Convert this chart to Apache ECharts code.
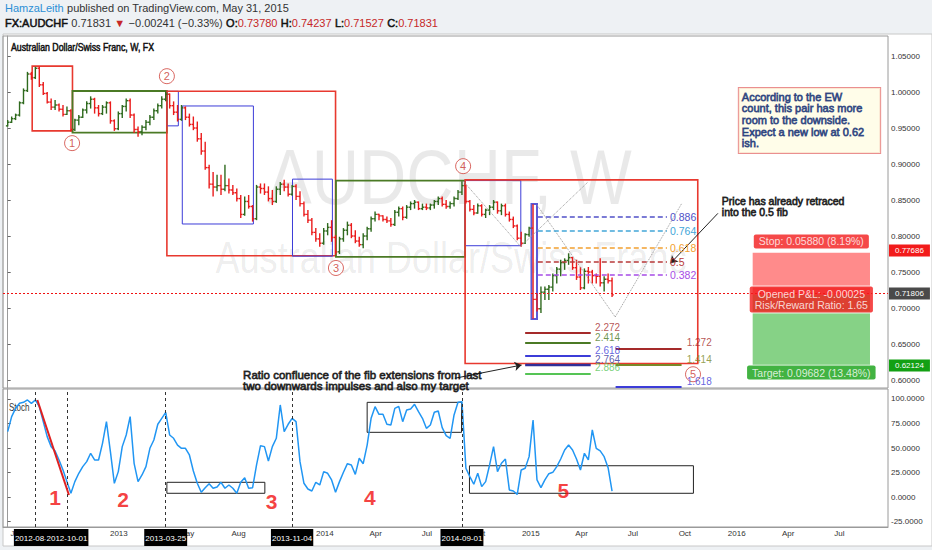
<!DOCTYPE html>
<html><head><meta charset="utf-8">
<script src="https://cdn.jsdelivr.net/npm/echarts@6/dist/echarts.min.js"></script>
<style>html,body{margin:0;padding:0;background:#eef1f4;}#c{width:932px;height:550px;}</style>
</head><body><div id="c"></div>
<script>
// ---------- DATA ----------
const firstWeek = '2012-06-18';           // Monday of first weekly bar (x = weeks since this date)
const opens = [0.953,0.958,0.963,0.968,0.985,1.002,1.025,1.020,1.033,1.010,
0.998,0.986,0.979,0.982,0.976,0.969,0.974,0.948,0.961,0.965,
0.975,0.984,0.990,0.978,0.970,0.979,0.985,0.960,0.949,0.970,
0.980,0.988,0.968,0.948,0.945,0.951,0.958,0.965,0.974,0.981,
0.990,0.997,0.981,0.972,0.962,0.978,0.965,0.955,0.950,0.935,
0.918,0.895,0.872,0.868,0.870,0.865,0.870,0.864,0.860,0.852,
0.830,0.848,0.841,0.824,0.868,0.866,0.861,0.852,0.848,0.865,
0.872,0.868,0.858,0.869,0.855,0.845,0.830,0.822,0.805,0.796,
0.790,0.807,0.812,0.798,0.778,0.796,0.808,0.815,0.800,0.793,
0.788,0.800,0.810,0.824,0.830,0.828,0.823,0.821,0.816,0.833,
0.838,0.826,0.840,0.845,0.847,0.838,0.840,0.839,0.843,0.848,
0.852,0.844,0.841,0.845,0.852,0.861,0.870,0.848,0.837,0.832,
0.842,0.830,0.836,0.840,0.847,0.835,0.842,0.830,0.823,0.814,
0.797,0.790,0.802,0.811,0.712,0.699,0.722,0.726,0.729,0.745,
0.754,0.763,0.766,0.770,0.756,0.743,0.728,0.751,0.750,0.745,
0.744,0.735,0.740,0.7378];
const highs = [0.961,0.966,0.970,0.987,1.005,1.028,1.028,1.035,1.035,1.014,
1.000,0.991,0.989,0.984,0.982,0.980,0.976,0.963,0.968,0.977,
0.987,0.994,0.992,0.982,0.982,0.987,0.987,0.962,0.973,0.982,
0.991,0.991,0.970,0.952,0.954,0.961,0.968,0.977,0.984,0.994,
1.001,0.998,0.987,0.982,0.982,0.980,0.970,0.966,0.959,0.943,
0.931,0.899,0.889,0.885,0.885,0.899,0.880,0.871,0.866,0.857,
0.855,0.857,0.843,0.871,0.873,0.873,0.869,0.864,0.869,0.875,
0.878,0.873,0.871,0.872,0.862,0.848,0.836,0.825,0.811,0.804,
0.811,0.818,0.822,0.801,0.799,0.811,0.820,0.818,0.808,0.799,
0.804,0.813,0.827,0.834,0.831,0.829,0.827,0.825,0.836,0.841,
0.841,0.843,0.848,0.850,0.848,0.845,0.845,0.845,0.850,0.855,
0.855,0.850,0.848,0.855,0.864,0.876,0.871,0.850,0.843,0.845,
0.844,0.838,0.843,0.850,0.848,0.845,0.845,0.834,0.827,0.816,
0.806,0.804,0.813,0.844,0.720,0.730,0.730,0.732,0.748,0.757,
0.767,0.769,0.776,0.771,0.767,0.757,0.755,0.757,0.753,0.748,
0.769,0.744,0.748,0.74237];
const lows = [0.952,0.957,0.961,0.966,0.983,1.000,1.017,1.018,1.007,0.996,
0.984,0.975,0.975,0.973,0.966,0.968,0.945,0.946,0.954,0.964,
0.970,0.977,0.970,0.966,0.968,0.970,0.956,0.946,0.947,0.964,
0.973,0.964,0.943,0.938,0.940,0.947,0.954,0.961,0.970,0.977,
0.987,0.977,0.968,0.959,0.960,0.961,0.952,0.947,0.931,0.913,
0.892,0.866,0.855,0.862,0.857,0.862,0.859,0.857,0.848,0.825,
0.828,0.838,0.820,0.822,0.859,0.857,0.848,0.843,0.846,0.857,
0.862,0.855,0.856,0.850,0.841,0.827,0.818,0.801,0.792,0.785,
0.788,0.801,0.792,0.774,0.775,0.792,0.801,0.797,0.790,0.785,
0.783,0.794,0.806,0.820,0.822,0.820,0.818,0.813,0.814,0.827,
0.822,0.824,0.836,0.838,0.836,0.836,0.836,0.836,0.838,0.843,
0.841,0.838,0.838,0.841,0.850,0.857,0.845,0.834,0.829,0.831,
0.827,0.825,0.829,0.836,0.831,0.829,0.827,0.820,0.811,0.794,
0.785,0.789,0.799,0.685,0.695,0.693,0.711,0.711,0.723,0.734,
0.744,0.753,0.760,0.753,0.739,0.725,0.726,0.734,0.734,0.734,
0.730,0.723,0.734,0.71527];
const closes = [0.958,0.963,0.968,0.985,1.002,1.025,1.020,1.033,1.010,0.998,
0.986,0.979,0.982,0.976,0.969,0.974,0.948,0.961,0.965,0.975,
0.984,0.990,0.978,0.970,0.979,0.985,0.960,0.949,0.970,0.980,
0.988,0.968,0.948,0.945,0.951,0.958,0.965,0.974,0.981,0.990,
0.997,0.981,0.972,0.962,0.978,0.965,0.955,0.950,0.935,0.918,
0.895,0.872,0.868,0.870,0.865,0.870,0.864,0.860,0.852,0.830,
0.848,0.841,0.824,0.868,0.866,0.861,0.852,0.848,0.865,0.872,
0.868,0.858,0.869,0.855,0.845,0.830,0.822,0.805,0.796,0.790,
0.807,0.812,0.798,0.778,0.796,0.808,0.815,0.800,0.793,0.788,
0.800,0.810,0.824,0.830,0.828,0.823,0.821,0.816,0.833,0.838,
0.826,0.840,0.845,0.847,0.838,0.840,0.839,0.843,0.848,0.852,
0.844,0.841,0.845,0.852,0.861,0.870,0.848,0.837,0.832,0.842,
0.830,0.836,0.840,0.847,0.835,0.842,0.830,0.823,0.814,0.797,
0.790,0.802,0.811,0.712,0.699,0.722,0.726,0.729,0.745,0.754,
0.763,0.766,0.770,0.756,0.743,0.728,0.751,0.750,0.745,0.744,
0.735,0.740,0.7378,0.71831];
const stochK = [66.7,82,90.5,95.6,96.6,99,95.6,99,92.2,76.9,
61.6,51.4,47,37.8,27.6,15.7,3.8,15.7,24.2,31,
36.1,44.6,37.8,37.8,54.8,76.9,46.3,14,25.9,51.4,
63.3,82,34.4,15.7,22.5,31,49.7,58.2,74.2,80.3,
86.4,63.3,59.9,53,49.7,49.7,42.9,26.5,14,4.8,
9.5,13.6,8.9,10.2,15,8.9,12.3,8.9,3.8,15,
19.7,8.9,9.5,32.7,52.4,51.4,36.8,51.4,59.9,93.9,
66.7,74.2,80.3,76.9,36.1,14,8.2,6.1,15,12.3,
25.9,24.2,17.4,4.8,15.7,25.2,34,32.7,23.1,39.5,
34,53,80.3,92.2,84.4,84.4,74.2,73.5,90.5,92.5,
76.9,88.8,89.8,94.6,87.1,80.3,70.1,73.5,86.4,87.8,
70.8,62.6,59.9,83.7,96.6,97.3,29.3,20.8,13,24.2,
10.6,15.7,32.7,51.4,25.9,34.4,38.8,7.2,6.1,2.7,
27.6,29.3,41.2,78.6,17.4,9.5,17.4,23.8,25.2,31,
38.8,48,53,48,38.8,27.6,44.6,37.8,68.4,49.7,
47,41.2,29.9,6.1];
const priceTicks = [0.60,0.65,0.70,0.75,0.80,0.85,0.90,0.95,1.00,1.05];
const stochTicks = [-25,0,25,50,75,100];
const timeLabels = [['2012-07-02','Jul'],['2013-01-01','2013'],['2013-05-01','May'],['2013-08-01','Aug'],
 ['2014-01-01','2014'],['2014-04-01','Apr'],['2014-07-01','Jul'],['2014-10-01','Oct'],
 ['2015-01-01','2015'],['2015-04-01','Apr'],['2015-07-01','Jul'],['2015-10-01','Oct'],
 ['2016-01-01','2016'],['2016-04-01','Apr'],['2016-07-01','Jul']];
const markedDates = ['2012-08-06','2012-10-01','2013-03-25','2013-11-04','2014-09-01'];
// annotations in data units: week index (from firstWeek), price / stoch value
const waveBoxes = [[6.2,16.4,1.036,0.946,'red'],[16.4,40.3,1.0014,0.9435,'green'],[40.3,43.2,1.001,0.953,'blue'],
 [44.2,62.2,0.9806,0.8167,'blue'],[40.3,83.0,1.001,0.7726,'red'],[72.1,82.2,0.879,0.772,'blue'],
 [83.1,115.8,0.877,0.771,'green'],[115.8,129.9,0.877,0.7865,'blue'],[115.8,174.7,0.878,0.623,'red'],
 [132.6,134.0,0.8444,0.6847,'purple']];
const waveLabels = [['1',16.3,0.929],['2',40.3,1.022],['3',83.1,0.7556],['4',115.3,0.897],['5',173.5,0.608]];
const zigzag = [[115.3,0.8764,129.9,0.7851],[130,0.7861,146.9,0.875],[134,0.843,153.8,0.6875],[153.8,0.6875,170.7,0.8458]];
const fibSwing = [0.8444,0.6847];
const fibLevels = [0.886,0.764,0.618,0.5,0.382];
const fibSpan = [134.2,166.9];
const extLeftLevels = ['2.272','2.414','2.618','2.764','2.886'];
const extLeftPrices = [0.6657,0.6520,0.6333,0.6208,0.6093];
const extLeftSpan = [131.0,147.6];
const extRightLevels = ['1.272','1.414','1.618'];
const extRightPrices = [0.6440,0.6208,0.5905];
const extRightSpan = [153.9,170.6];
const trade = {from:188.6, to:218.3, entry:0.71806, stop:0.77686, target:0.62124};
const stochBoxes = [[40.3,65.1,15,3.8],[91.0,114.9,96.6,66.0],[116.9,173.6,31.9,3.8]];
const stochDigits = [['1',12,0],['2',29.2,-3],['3',66.8,-4.8],['4',91.7,-0.7],['5',140.7,7.1]];
const stochRedLine = [7.5,99,15.5,2];
const stochMarkWeeks = [7,15,40,72,115];

// ---------- HELPERS ----------
const DAY = 86400000;
const t0 = new Date(firstWeek+'T00:00:00Z').getTime();
const wk = s => (new Date(s+'T00:00:00Z').getTime() - t0) / (7*DAY);   // date -> week position
const xMin = -1.19, xMax = 222.86;
const FN = "'Liberation Sans', Arial, sans-serif";
const ohlc = closes.map((c,i)=>[i,opens[i],highs[i],lows[i],c]);
const stochData = stochK.map((v,i)=>[i,v]);

const boxColor = {red:['#e8392f',1.6],green:['#4b7a25',1.8],blue:['#3c3cd8',1],purple:['#5a5ad8',2]};
const fibColor = {'0.886':'#5050c8','0.764':'#43a6d8','0.618':'#f2a030','0.5':'#b83a3a','0.382':'#a64ce6'};
const extColor = {'2.272':'#a52a2a','2.414':'#4b7a25','2.618':'#3c3cd8','2.764':'#30309a','2.886':'#55c455',
                  '1.272':'#a52a2a','1.414':'#7a8a2a','1.618':'#3c3cd8'};
const bold = col => ({textBorderColor:col,textBorderWidth:0.8});

const labelMap = {};
const key = v => Number(v).toFixed(3);
timeLabels.forEach(([d,t])=>labelMap[key(wk(d))]=t);
markedDates.forEach(d=>labelMap[key(wk(d))]='{box|'+d+'}');
const xCustom = timeLabels.map(a=>wk(a[0])).concat(markedDates.map(wk));

// main pane mark areas / lines
const mainAreas = waveBoxes.map(b=>[{coord:[b[0],b[2]],itemStyle:{color:'rgba(0,0,0,0)',borderColor:boxColor[b[4]][0],borderWidth:boxColor[b[4]][1]}},{coord:[b[1],b[3]]}]);
mainAreas.push([{coord:[trade.from,trade.stop],itemStyle:{color:'#ff8b8b',borderWidth:0}},{coord:[trade.to,trade.entry]}]);
mainAreas.push([{coord:[trade.from,trade.entry],itemStyle:{color:'#86d286',borderWidth:0}},{coord:[trade.to,trade.target]}]);

const mainLines = [];
zigzag.forEach(z=>mainLines.push([{coord:[z[0],z[1]],lineStyle:{color:'#9a9a9a',type:'dotted',width:1}},{coord:[z[2],z[3]]}]));
fibLevels.forEach(l=>{
  const p = fibSwing[1] + l*(fibSwing[0]-fibSwing[1]);
  const k = String(l); const col = fibColor[k];
  mainLines.push([{coord:[fibSpan[0],p],lineStyle:{color:col,type:[5,3],width:1.6},
     label:{show:true,position:'end',formatter:k,color:col,fontSize:10.5,fontFamily:FN,distance:3}},{coord:[fibSpan[1],p]}]);
});
extLeftLevels.forEach((k,i)=>mainLines.push([{coord:[extLeftSpan[0],extLeftPrices[i]],lineStyle:{color:extColor[k],type:'solid',width:k==='2.764'?2.4:1.8}},{coord:[extLeftSpan[1],extLeftPrices[i]]}]));
extRightLevels.forEach((k,i)=>mainLines.push([{coord:[extRightSpan[0],extRightPrices[i]],lineStyle:{color:extColor[k],type:'solid',width:1.8}},{coord:[extRightSpan[1],extRightPrices[i]]}]));
// arrows
mainLines.push([{coord:[179.8,0.8315],symbol:'none',lineStyle:{color:'#222',width:1,type:'solid'}},{coord:[167.8,0.7621],symbol:'arrow'}]);
mainLines.push([{coord:[113.2,0.6024],symbol:'none',lineStyle:{color:'#222',width:1,type:'solid'}},{coord:[130.1,0.6208],symbol:'arrow'}]);
// price tags on the right axis
const tag = (v,bg,dotted)=>({yAxis:v,lineStyle:dotted?{color:'#f01010',type:[2,2],width:1.2,opacity:1}:{color:'rgba(255,255,255,0)',width:0.1},
  label:{show:true,position:'end',distance:1,formatter:v.toFixed(5),color:'#fff',backgroundColor:bg,padding:[2,6,2,6],fontSize:8,fontFamily:FN}});
mainLines.push(tag(trade.stop,'#f21b1b',false));
mainLines.push(tag(0.71806,'#4a4a4a',true));
mainLines.push(tag(trade.target,'#13a013',false));

// texts in main pane
const txt = (w,p,text,lab)=>({value:[w,p],label:Object.assign({show:true,formatter:text,position:[0,0],align:'left',verticalAlign:'middle',fontFamily:FN,fontSize:10},lab)});
const mainTexts = [];
waveLabels.forEach(([n,w,p])=>mainTexts.push({value:[w,p],symbol:'circle',symbolSize:15,
   itemStyle:{color:'rgba(255,255,255,0.9)',borderColor:'#d0413a',borderWidth:1},
   label:{show:true,formatter:n,position:'inside',color:'#c8352f',fontSize:11,fontFamily:FN}}));
extLeftLevels.forEach((k,i)=>mainTexts.push(txt(extLeftSpan[1]+1.1,extLeftPrices[i]+0.0076,k,{color:extColor[k]})));
extRightLevels.forEach((k,i)=>mainTexts.push(txt(extRightSpan[1]+1.3,extRightPrices[i]+0.0078,k,{color:extColor[k]})));
mainTexts.push(txt(185.1,1.0056,'According to the EW\ncount, this pair has more\nroom to the downside.\nExpect a new low at 0.62\nish.',
  Object.assign({verticalAlign:'top',color:'#1f3a7a',fontSize:11,lineHeight:11.6,backgroundColor:'#fffde3',borderColor:'#e57373',borderWidth:1,padding:[3,16,4,3]},bold('#1f3a7a'))));
mainTexts.push(txt(180.8,0.8556,'Price has already retraced\ninto the 0.5 fib',Object.assign({verticalAlign:'top',color:'#111',fontSize:10.5,lineHeight:10.5},bold('#111'))));
mainTexts.push(txt(59.6,0.6153,'Ratio confluence of the fib extensions from last\ntwo downwards impulses and also my target',Object.assign({verticalAlign:'top',color:'#111',fontSize:11.5,lineHeight:11.5},bold('#111'))));
const tradeMid = (trade.from+trade.to)/2;
mainTexts.push(txt(tradeMid,0.7924,'Stop: 0.05880 (8.19%)',{align:'center',color:'#fff',backgroundColor:'#f21b1b',padding:[2,5,1,5],borderRadius:2,fontSize:10.5}));
mainTexts.push(txt(tradeMid,0.7118,'Opened P&L: -0.00025\nRisk/Reward Ratio: 1.65',{align:'center',color:'#fff',backgroundColor:'#f21b1b',padding:[3,5,2,5],borderRadius:2,fontSize:10.5,lineHeight:10.5,borderColor:'#fff',borderWidth:1}));
mainTexts.push(txt(tradeMid,0.6104,'Target: 0.09682 (13.48%)',{align:'center',color:'#fff',backgroundColor:'#13a013',padding:[2,5,1,5],borderRadius:2,fontSize:10.5}));

// stoch pane marks
const stochAreas = stochBoxes.map(b=>[{coord:[b[0],b[2]],itemStyle:{color:'rgba(0,0,0,0)',borderColor:'#222',borderWidth:1}},{coord:[b[1],b[3]]}]);
const stochLines = stochMarkWeeks.map(w=>({xAxis:w,lineStyle:{color:'#333',type:[3,3],width:1}}));
stochLines.push([{coord:[stochRedLine[0],stochRedLine[1]],lineStyle:{color:'#e02020',width:2,type:'solid'}},{coord:[stochRedLine[2],stochRedLine[3]]}]);
const stochTexts = stochDigits.map(([n,w,v])=>({value:[w,v],label:{show:true,formatter:n,position:[0,0],align:'center',verticalAlign:'middle',color:'#f20f0f',fontSize:21,fontWeight:'bold',fontFamily:FN}}));

// ---------- CHART ----------
const chart = echarts.init(document.getElementById('c'),null,{renderer:'svg'});
const axisLbl = {fontSize:8,color:'#333',fontFamily:FN};
chart.setOption({
  animation:false,
  backgroundColor:'#eef1f4',
  grid:[{left:3,right:44,top:36,height:352,show:true,borderColor:'#9a9a9a',borderWidth:1},
        {left:3,right:44,top:389,height:138,show:true,borderColor:'#9a9a9a',borderWidth:1}],
  xAxis:[{type:'value',gridIndex:0,min:xMin,max:xMax,show:false,splitLine:{show:false}},
         {type:'value',gridIndex:1,min:xMin,max:xMax,splitLine:{show:false},
          axisLine:{show:true,onZero:false,lineStyle:{color:'#9a9a9a'}},axisTick:{show:false},
          axisLabel:Object.assign({},axisLbl,{customValues:xCustom,margin:2,formatter:v=>labelMap[key(v)]||'',
             rich:{box:{backgroundColor:'#000',color:'#fff',padding:[5,1,4,1],fontSize:8,fontFamily:FN}}})}],
  yAxis:[{type:'value',gridIndex:0,position:'right',min:0.5889,max:1.0778,splitLine:{show:false},
          axisLine:{show:true,lineStyle:{color:'#9a9a9a'}},axisTick:{show:true,length:3,customValues:priceTicks,lineStyle:{color:'#666'}},
          axisLabel:Object.assign({},axisLbl,{customValues:priceTicks,formatter:v=>v.toFixed(5),margin:3})},
         {type:'value',gridIndex:1,position:'right',min:-30.6,max:110.2,splitLine:{show:false},
          axisLine:{show:true,lineStyle:{color:'#9a9a9a'}},axisTick:{show:true,length:3,customValues:stochTicks,lineStyle:{color:'#666'}},
          axisLabel:Object.assign({},axisLbl,{customValues:stochTicks,formatter:v=>v.toFixed(4),margin:3})}],
  graphic:[
    {type:'rect',shape:{x:3,y:34,width:929,height:512},style:{fill:'#fff',stroke:'#c8c8c8'},z:-10},
    {type:'text',x:450,y:216,scaleX:0.84,z:-5,style:{text:'AUDCHF, W',font:"78px 'Liberation Sans', Arial, sans-serif",fill:'rgba(0,0,0,0.085)',align:'center',verticalAlign:'bottom'}},
    {type:'text',x:451,y:280,scaleX:0.82,z:-5,style:{text:'Australian Dollar/Swiss Franc',font:"44px 'Liberation Sans', Arial, sans-serif",fill:'rgba(0,0,0,0.085)',align:'center',verticalAlign:'bottom'}},
    {type:'text',x:5,y:8,style:{text:'{b|HamzaLeith} {g|published on TradingView.com, May 31, 2015}',verticalAlign:'middle',
       rich:{b:{fill:'#2b8fd6',fontSize:11,fontFamily:FN},g:{fill:'#333',fontSize:11,fontFamily:FN}}}},
    {type:'text',x:5,y:23,style:{text:'{k|FX:AUDCHF} {n|0.71831} {r|▼} {n|\u22120.00241 (\u22120.33%)} {k|O:}{r|0.73780} {k|H:}{r|0.74237} {k|L:}{r|0.71527} {k|C:}{r|0.71831}',verticalAlign:'middle',
       rich:{k:{fill:'#111',stroke:'#111',lineWidth:0.5,fontSize:11,fontFamily:FN},n:{fill:'#333',fontSize:11,fontFamily:FN},r:{fill:'#c62828',fontSize:11,fontFamily:FN}}}},
    {type:'text',x:11,y:47,scaleX:0.835,style:{text:'Australian Dollar/Swiss Franc, W, FX',font:"10.5px 'Liberation Sans', Arial, sans-serif",fill:'#111',stroke:'#111',lineWidth:0.5,verticalAlign:'middle'}},
    {type:'text',x:9,y:408,scaleX:0.8,style:{text:'Stoch',font:"10px 'Liberation Sans', Arial, sans-serif",fill:'#333',verticalAlign:'middle'}}
  ],
  series:[
    {type:'custom',name:'AUDCHF',xAxisIndex:0,yAxisIndex:0,data:ohlc,encode:{x:0,y:[1,2,3,4]},z:3,clip:true,
     renderItem:(params,api)=>{
       const t=api.value(0), o=api.value(1), h=api.value(2), l=api.value(3), c=api.value(4);
       const pO=api.coord([t,o]), pH=api.coord([t,h]), pL=api.coord([t,l]), pC=api.coord([t,c]);
       const x=pO[0], col = c>=o ? '#2f6a1e' : '#ea1c1c', tw=1.8, lw=1.4;
       return {type:'group',children:[
         {type:'line',shape:{x1:x,y1:pH[1],x2:x,y2:pL[1]},style:{stroke:col,lineWidth:lw}},
         {type:'line',shape:{x1:x-tw,y1:pO[1],x2:x,y2:pO[1]},style:{stroke:col,lineWidth:lw}},
         {type:'line',shape:{x1:x,y1:pC[1],x2:x+tw,y2:pC[1]},style:{stroke:col,lineWidth:lw}}]};
     }},
    {type:'scatter',name:'notes',xAxisIndex:0,yAxisIndex:0,data:mainTexts,symbolSize:0,z:5,silent:true,
     markArea:{silent:true,data:mainAreas,z:1},
     markLine:{silent:true,symbol:['none','none'],symbolSize:7,label:{show:false},data:mainLines}},
    {type:'line',name:'Stoch',xAxisIndex:1,yAxisIndex:1,data:stochData,symbol:'none',z:3,
     lineStyle:{color:'#2196f3',width:1.5},
     markArea:{silent:true,data:stochAreas},
     markLine:{silent:true,symbol:['none','none'],label:{show:false},data:stochLines}},
    {type:'scatter',name:'stochNotes',xAxisIndex:1,yAxisIndex:1,data:stochTexts,symbolSize:0,z:5,silent:true}
  ]
});
</script></body></html>
